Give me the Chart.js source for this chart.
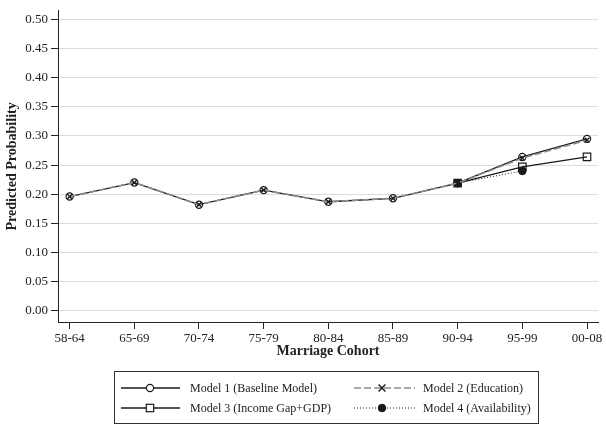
<!DOCTYPE html>
<html>
<head>
<meta charset="utf-8">
<script src="https://cdn.jsdelivr.net/npm/chart.js@4"></script>
<style>
  html, body { margin: 0; padding: 0; background: #fff; }
  #wrap { width: 606px; height: 431px; }
</style>
</head>
<body>
<div id="wrap"><canvas id="grafico" width="606" height="431"></canvas></div>
<script>
// Dados
const cohorts = ['58-64', '65-69', '70-74', '75-79', '80-84', '85-89', '90-94', '95-99', '00-08'];
const model1 = [0.196, 0.220, 0.182, 0.207, 0.187, 0.193, 0.219, 0.264, 0.295];
const model2 = [0.196, 0.220, 0.182, 0.207, 0.187, 0.193, 0.219, 0.262, 0.293];
const model3 = [null, null, null, null, null, null, 0.219, 0.247, 0.264];
const model4 = [null, null, null, null, null, null, 0.219, 0.240, null];
const yTicks = [0, 0.05, 0.10, 0.15, 0.20, 0.25, 0.30, 0.35, 0.40, 0.45, 0.50];

const serif = "'Liberation Serif', 'Times New Roman', serif";
const pts = arr => arr.map((v, i) => ({ x: i, y: v }));

const datasets = [
    {
        label: 'Model 1 (Baseline Model)',
        data: pts(model1),
        borderColor: '#1a1a1a', borderWidth: 1.3,
        pointStyle: 'circle', pointRadius: 3.6, pointBorderWidth: 1.2,
        pointBackgroundColor: 'rgba(255,255,255,0)', pointBorderColor: '#1a1a1a',
        order: 3
    },
    {
        label: 'Model 2 (Education)',
        data: pts(model2),
        borderColor: '#8c8c8c', borderWidth: 1.6, borderDash: [7, 3],
        pointStyle: 'crossRot', pointRadius: 3.4, pointBorderWidth: 1.4,
        pointBorderColor: '#1a1a1a',
        order: 0
    },
    {
        label: 'Model 3 (Income Gap+GDP)',
        data: pts(model3),
        borderColor: '#1a1a1a', borderWidth: 1.3,
        pointStyle: 'rect', pointRadius: 5.3, pointBorderWidth: 1.2,
        pointBackgroundColor: 'rgba(255,255,255,0)', pointBorderColor: '#1a1a1a',
        order: 2
    },
    {
        label: 'Model 4 (Availability)',
        data: pts(model4),
        borderColor: '#1a1a1a', borderWidth: 1, borderDash: [1, 2],
        pointStyle: 'circle', pointRadius: 3.8, pointBorderWidth: 1,
        pointBackgroundColor: '#1a1a1a', pointBorderColor: '#1a1a1a',
        order: 1
    }
];

// Legenda em caixa, desenhada no canvas
const legendaBox = {
    id: 'legendaBox',
    afterDraw(chart) {
        const ctx = chart.ctx;
        ctx.save();
        ctx.strokeStyle = '#333';
        ctx.lineWidth = 1;
        ctx.strokeRect(114.5, 371.5, 424, 52);
        const cols = [{ x0: 121, x1: 180, m: 150, t: 190 }, { x0: 354, x1: 415, m: 382, t: 423 }];
        const rows = [388, 408];
        const slots = [[0, 0], [1, 0], [0, 1], [1, 1]];
        datasets.forEach((ds, i) => {
            const c = cols[slots[i][0]];
            const y = rows[slots[i][1]];
            ctx.strokeStyle = ds.borderColor;
            ctx.lineWidth = ds.borderWidth;
            ctx.setLineDash(ds.borderDash || []);
            ctx.beginPath();
            ctx.moveTo(c.x0, y);
            ctx.lineTo(c.x1, y);
            ctx.stroke();
            ctx.setLineDash([]);
            ctx.strokeStyle = ds.pointBorderColor;
            ctx.lineWidth = ds.pointBorderWidth;
            if (ds.pointStyle === 'rect') {
                ctx.fillStyle = '#fff';
                const r = 3.7;
                ctx.fillRect(c.m - r, y - r, 2 * r, 2 * r);
                ctx.strokeRect(c.m - r, y - r, 2 * r, 2 * r);
            } else if (ds.pointStyle === 'circle') {
                ctx.beginPath();
                ctx.arc(c.m, y, ds.pointRadius, 0, Math.PI * 2);
                ctx.fillStyle = ds.pointBackgroundColor === 'rgba(255,255,255,0)' ? '#fff' : ds.pointBackgroundColor;
                ctx.fill();
                ctx.stroke();
            } else {
                const r = ds.pointRadius;
                ctx.beginPath();
                ctx.moveTo(c.m - r, y - r); ctx.lineTo(c.m + r, y + r);
                ctx.moveTo(c.m + r, y - r); ctx.lineTo(c.m - r, y + r);
                ctx.stroke();
            }
            ctx.fillStyle = '#222';
            ctx.font = '12px ' + serif;
            ctx.textBaseline = 'middle';
            ctx.textAlign = 'left';
            ctx.fillText(ds.label, c.t, y + 1);
        });
        ctx.restore();
    }
};

new Chart(document.getElementById('grafico'), {
    type: 'line',
    data: { datasets: datasets },
    plugins: [legendaBox],
    options: {
        responsive: false,
        animation: false,
        spanGaps: false,
        layout: { padding: { top: 7, right: 8, bottom: 71, left: 0 } },
        plugins: { legend: { display: false }, tooltip: { enabled: false } },
        scales: {
            x: {
                type: 'linear',
                min: -0.18,
                max: 8.17,
                afterBuildTicks: s => { s.ticks = cohorts.map((c, i) => ({ value: i })); },
                afterFit: s => { s.height = 38; },
                grid: { drawOnChartArea: false, drawTicks: true, tickLength: 7, tickColor: '#222' },
                border: { color: '#222', width: 1 },
                ticks: {
                    autoSkip: false, maxRotation: 0, padding: 2,
                    color: '#222', font: { family: serif, size: 13 },
                    callback: v => cohorts[v]
                },
                title: {
                    display: true, text: 'Marriage Cohort', color: '#222',
                    font: { family: serif, size: 14, weight: 'bold' },
                    padding: { top: 0, bottom: 0 }
                }
            },
            y: {
                min: -0.0195,
                max: 0.515,
                afterBuildTicks: s => { s.ticks = yTicks.map(v => ({ value: v })); },
                afterFit: s => { s.width = 58; },
                grid: { color: '#dcdcdc', lineWidth: 1, tickLength: 7, tickColor: '#222' },
                border: { color: '#222', width: 1 },
                ticks: {
                    padding: 3, color: '#222', font: { family: serif, size: 13 },
                    callback: v => v.toFixed(2)
                },
                title: {
                    display: true, text: 'Predicted Probability', color: '#222',
                    font: { family: serif, size: 14, weight: 'bold' },
                    padding: { top: 4, bottom: 0 }
                }
            }
        }
    }
});
</script>
</body>
</html>
